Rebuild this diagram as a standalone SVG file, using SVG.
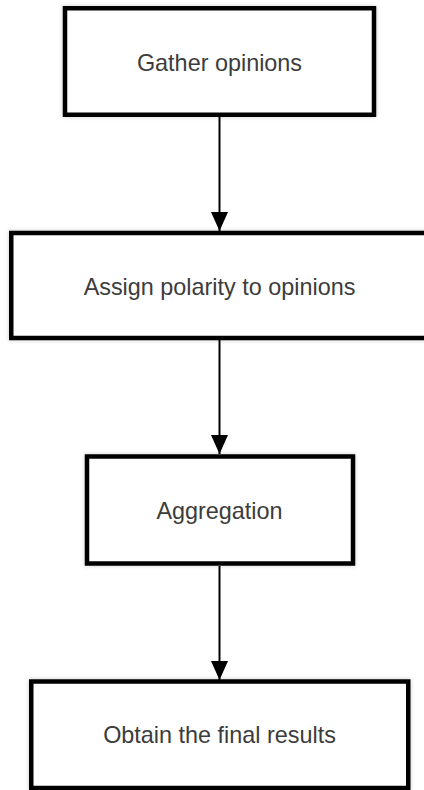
<svg xmlns="http://www.w3.org/2000/svg" width="424" height="790" viewBox="0 0 424 790">
  <style>
    .box { fill: #ffffff; stroke: #000000; stroke-width: 4.5; filter: url(#shadow); }
    .label { font-family: "Liberation Sans", Arial, Helvetica, sans-serif; font-size: 23.4px; fill: #3c3c3c; text-anchor: middle; }
    .conn { stroke: #000000; stroke-width: 2; fill: none; marker-end: url(#arrow); }
  </style>
  <defs>
    <filter id="shadow" x="-10%" y="-10%" width="120%" height="120%">
      <feDropShadow dx="0" dy="0" stdDeviation="2" flood-color="#000000" flood-opacity="0.2"/>
    </filter>
    <marker id="arrow" markerWidth="19" markerHeight="17" refX="19" refY="8.5" orient="auto" markerUnits="userSpaceOnUse">
      <path d="M0,0 L19,8.5 L0,17 Z" fill="#000000"/>
    </marker>
  </defs>
  <rect width="424" height="790" fill="#ffffff"/>
  <g id="connectors">
    <line class="conn" x1="219.5" y1="117" x2="219.5" y2="231"/>
    <line class="conn" x1="219.5" y1="340" x2="219.5" y2="454"/>
    <line class="conn" x1="219.5" y1="566" x2="219.5" y2="680"/>
  </g>
  <g id="node1">
    <rect class="box" x="65" y="8.25" width="309" height="106.5"/>
    <text class="label" x="219.5" y="71">Gather opinions</text>
  </g>
  <g id="node2">
    <rect class="box" x="11.25" y="233" width="418" height="105"/>
    <text class="label" x="219.5" y="295">Assign polarity to opinions</text>
  </g>
  <g id="node3">
    <rect class="box" x="87" y="456.5" width="266" height="107"/>
    <text class="label" x="219.5" y="519">Aggregation</text>
  </g>
  <g id="node4">
    <rect class="box" x="31.25" y="681.5" width="377" height="106.5"/>
    <text class="label" x="219.5" y="743">Obtain the final results</text>
  </g>
</svg>
